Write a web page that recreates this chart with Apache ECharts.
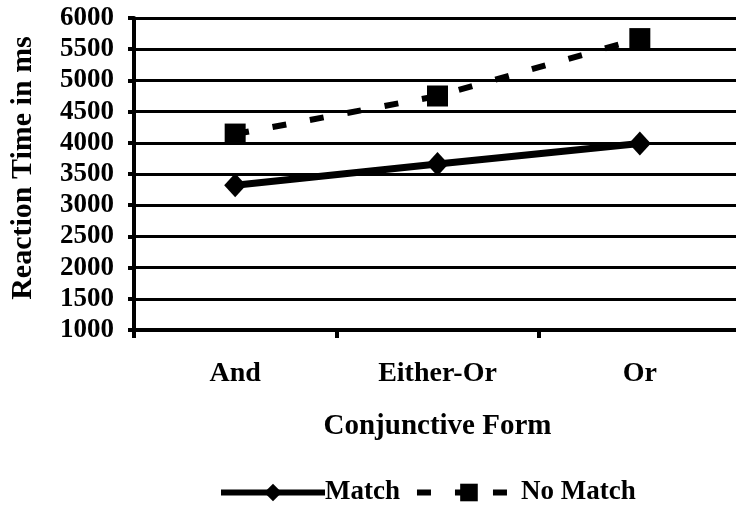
<!DOCTYPE html>
<html>
<head>
<meta charset="utf-8">
<script src="https://cdn.jsdelivr.net/npm/echarts@6/dist/echarts.min.js"></script>
<style>html,body{margin:0;padding:0;background:#fff;overflow:hidden;}#c{width:741px;height:515px;}</style>
</head>
<body>
<div id="c"></div>
<script>
const categories = ['And', 'Either-Or', 'Or'];
const matchValues = [3320, 3660, 3990];
const noMatchValues = [4140, 4750, 5670];
const yTicks = { min: 1000, max: 6000, interval: 500 };

const font = 'Liberation Serif';
const chart = echarts.init(document.getElementById('c'), null, { renderer: 'canvas' });
chart.setOption({
  animation: false,
  backgroundColor: '#fff',
  grid: { left: 133, right: 0, top: 18, bottom: 185, containLabel: false },
  legend: {
    bottom: 4,
    left: 213,
    itemWidth: 104,
    itemHeight: 22,
    itemGap: 14,
    lineStyle: { width: 6 },
    textStyle: { fontFamily: font, fontWeight: 'bold', fontSize: 27, color: '#000', padding: [0, 0, 0, -5] },
    data: ['Match', 'No Match']
  },
  xAxis: {
    type: 'category',
    data: categories,
    name: 'Conjunctive Form',
    nameLocation: 'middle',
    nameGap: 82,
    nameTextStyle: { fontFamily: font, fontWeight: 'bold', fontSize: 29, color: '#000' },
    axisLine: { lineStyle: { color: '#000', width: 4 } },
    axisTick: { show: true, length: 8, lineStyle: { color: '#000', width: 4 } },
    axisLabel: { fontFamily: font, fontWeight: 'bold', fontSize: 28, color: '#000', margin: 30 }
  },
  yAxis: {
    type: 'value',
    min: yTicks.min, max: yTicks.max, interval: yTicks.interval,
    name: 'Reaction Time in ms',
    nameLocation: 'middle',
    nameGap: 96,
    nameTextStyle: { fontFamily: font, fontWeight: 'bold', fontSize: 30, color: '#000', padding: [0, 0, 0, 12] },
    axisLine: { show: true, lineStyle: { color: '#000', width: 4 } },
    axisTick: { show: true, length: 6, lineStyle: { color: '#000', width: 4 } },
    axisLabel: { fontFamily: font, fontWeight: 'bold', fontSize: 27, color: '#000', margin: 20,
      formatter: function (v) { return String(v); } },
    splitLine: { show: true, lineStyle: { color: '#000', width: 3 } }
  },
  series: [
    {
      name: 'Match', type: 'line', data: matchValues,
      symbol: 'diamond', symbolSize: [22, 24],
      lineStyle: { color: '#000', width: 7, type: 'solid' },
      itemStyle: { color: '#000' }
    },
    {
      name: 'No Match', type: 'line', data: noMatchValues,
      symbol: 'rect', symbolSize: 21,
      lineStyle: { color: '#000', width: 6, type: [14, 24] },
      itemStyle: { color: '#000' }
    }
  ]
});
</script>
</body>
</html>
